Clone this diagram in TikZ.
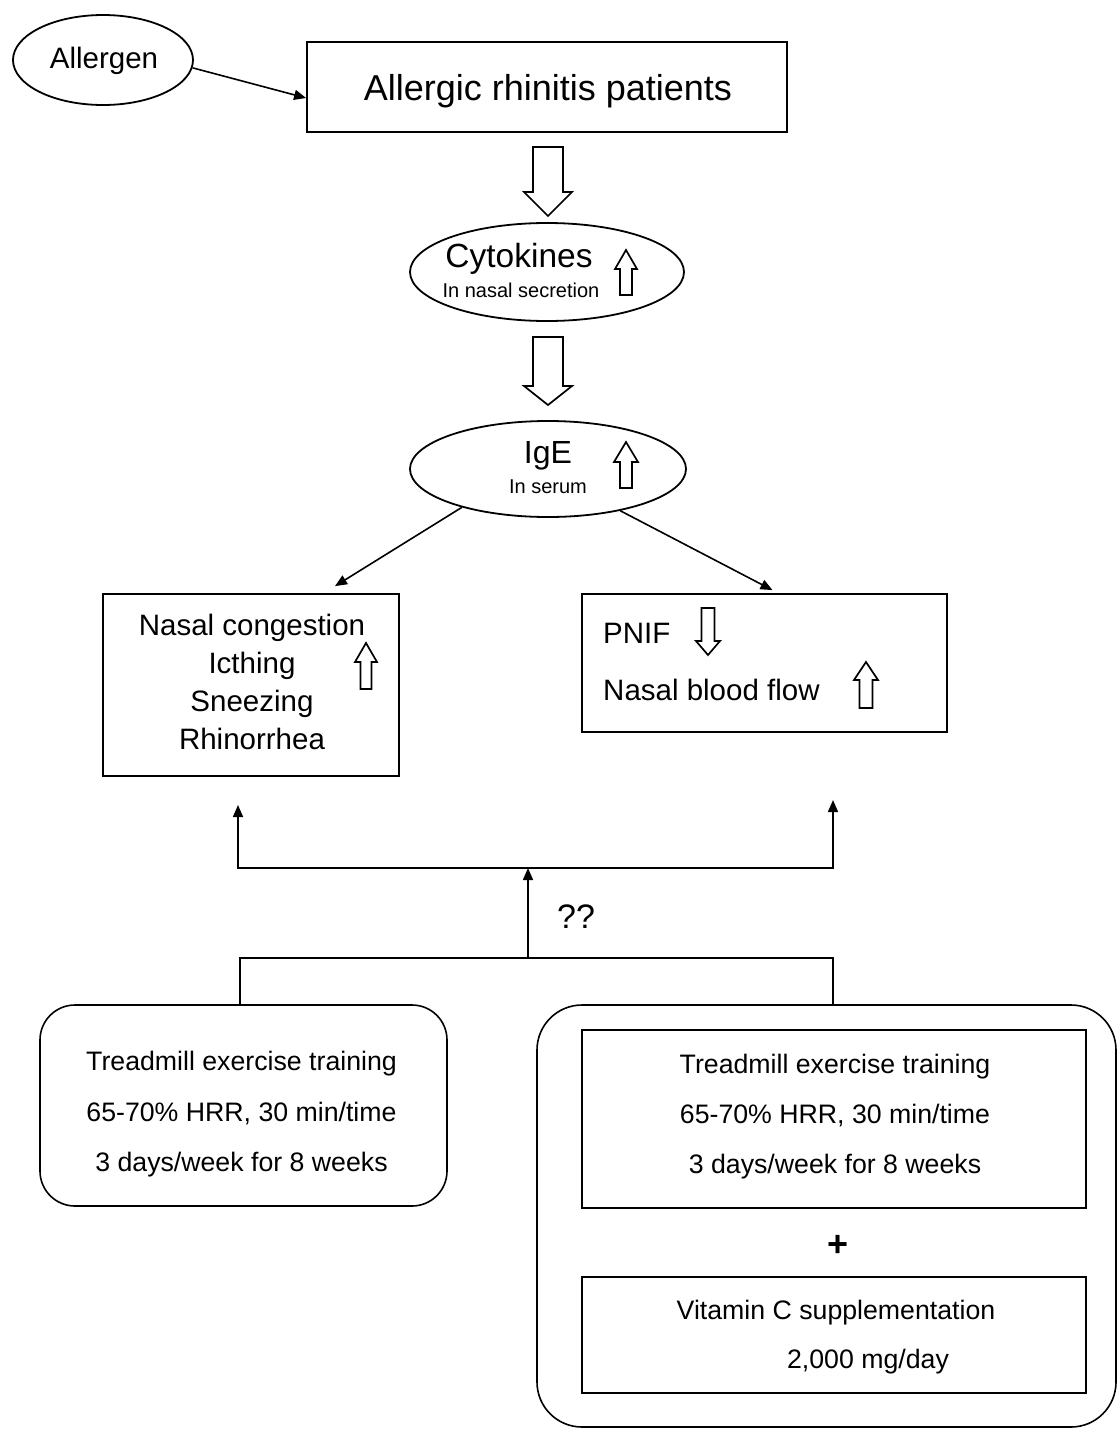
\documentclass[tikz,border=0pt]{standalone}
\usepackage{fontspec}
\setmainfont{Liberation Sans}
\usetikzlibrary{arrows.meta,shapes.geometric}
\newcommand\fsz[1]{\fontsize{#1}{#1}\selectfont}
\newcommand\blockarr[6]{\draw[hollowarr] (#1-#5,#2) -- (#1+#5,#2) -- (#1+#5,#3) -- (#1+#6,#3) -- (#1,#4) -- (#1-#6,#3) -- (#1-#5,#3) -- cycle;}
\begin{document}
\begin{tikzpicture}[x=1pt,y=-1pt,
  bx/.style={draw, line width=1.8pt, rectangle, inner sep=0pt},
  ibx/.style={draw, line width=1.3pt, rectangle, inner sep=0pt},
  rbx/.style={draw, line width=1.6pt, rectangle, inner sep=0pt},
  ell/.style={draw, line width=1.8pt, ellipse, inner sep=0pt},
  txt/.style={inner sep=0pt, anchor=base},
  conn/.style={line width=1.6pt, -{Triangle[length=12pt,width=10pt]}},
  plain/.style={line width=1.6pt},
  hollowarr/.style={draw, line width=1.7pt, line join=miter, fill=white}]
\useasboundingbox (0,0) rectangle (1119,1430);
\fill[white] (0,0) rectangle (1119,1430);

% top
\node[ell, minimum width=180pt, minimum height=90pt] (allergen) at (103,60) {};
\node[txt, font=\fsz{29.5}] (allergenT) at (104,68) {Allergen};
\node[bx, minimum width=480pt, minimum height=90pt] (main) at (547,87) {};
\node[txt, font=\fsz{36}] (mainT) at (548,100) {Allergic rhinitis patients};
\draw[conn] (allergen.355) -- ([yshift=-11pt]main.west);

% cytokines
\blockarr{548}{147}{192}{216}{15}{24}
\node[ell, minimum width=274pt, minimum height=98pt] (cyto) at (547,272) {};
\node[txt, font=\fsz{33.5}] (cytoT) at (519,267) {Cytokines};
\node[txt, font=\fsz{20}] (cytoS) at (521,297) {In nasal secretion};
\blockarr{626}{295}{269}{250}{6}{11}

% IgE
\blockarr{548}{337}{386}{405}{15}{24}
\node[ell, minimum width=276pt, minimum height=96pt] (ige) at (548,469) {};
\node[txt, font=\fsz{32}] (igeT) at (548,463) {IgE};
\node[txt, font=\fsz{20}] (igeS) at (548,493) {In serum};
\blockarr{626}{488}{462}{442}{6}{12}

% symptom boxes
\node[bx, minimum width=296pt, minimum height=182pt] (lbox) at (251,685) {};
\node[txt, font=\fsz{29.5}] (l1) at (252,635) {Nasal congestion};
\node[txt, font=\fsz{29.5}] (l2) at (252,673) {Icthing};
\node[txt, font=\fsz{29.5}] (l3) at (252,711) {Sneezing};
\node[txt, font=\fsz{29.5}] (l4) at (252,749) {Rhinorrhea};
\blockarr{366}{689}{662}{643}{5.5}{11}

\node[bx, minimum width=365pt, minimum height=138pt] (rbox) at (764.5,663) {};
\node[txt, anchor=base west, font=\fsz{29.5}] (r1) at (603,643) {PNIF};
\node[txt, anchor=base west, font=\fsz{29.5}] (r2) at (603,700) {Nasal blood flow};
\blockarr{708}{608}{641}{655}{6.5}{12}
\blockarr{866}{708}{680}{662}{6.5}{12}

\draw[conn] (ige.204.6) -- ([xshift=84pt,yshift=7pt]lbox.north);
\draw[conn] (ige.330) -- ([xshift=8pt,yshift=3pt]rbox.north);

% bottom boxes
\node[rbx, rounded corners=35pt, minimum width=407pt, minimum height=201pt] (lrb) at (243.5,1105.5) {};
\node[txt, font=\fsz{26.7}] (a1) at (241.5,1070) {Treadmill exercise training};
\node[txt, font=\fsz{26.7}] (a2) at (241.5,1121) {65-70\% HRR, 30 min/time};
\node[txt, font=\fsz{26.7}] (a3) at (241.5,1171) {3 days/week for 8 weeks};

\node[rbx, rounded corners=45pt, minimum width=579pt, minimum height=422pt] (rrb) at (826.5,1216) {};
\node[ibx, minimum width=504pt, minimum height=178pt] (ib1) at (834,1119) {};
\node[txt, font=\fsz{26.7}] (b1) at (835,1073) {Treadmill exercise training};
\node[txt, font=\fsz{26.7}] (b2) at (835,1123) {65-70\% HRR, 30 min/time};
\node[txt, font=\fsz{26.7}] (b3) at (835,1173) {3 days/week for 8 weeks};
\node[inner sep=0pt, font=\fsz{36}\bfseries] (plus) at (838,1246) {+};
\node[ibx, minimum width=504pt, minimum height=116pt] (ib2) at (834,1335) {};
\node[txt, font=\fsz{26.7}] (c1) at (836,1319) {Vitamin C supplementation};
\node[txt, font=\fsz{26.7}] (c2) at (868,1368) {2,000 mg/day};

% bracket connectors
\coordinate (jlow) at (528,958);
\coordinate (jhigh) at (528,868);
\coordinate (ltip) at (238,805);
\coordinate (rtip) at (833,800);
\draw[plain] ([xshift=-3.5pt]lrb.north) |- (jlow) -| ([xshift=6.5pt]rrb.north);
\draw[conn] (jlow) -- (jhigh);
\draw[conn] (jhigh) -| (ltip);
\draw[conn] (jhigh) -| (rtip);
\node[txt, anchor=base west, font=\fsz{34}] (qq) at (557,928) {??};
\end{tikzpicture}
\end{document}
